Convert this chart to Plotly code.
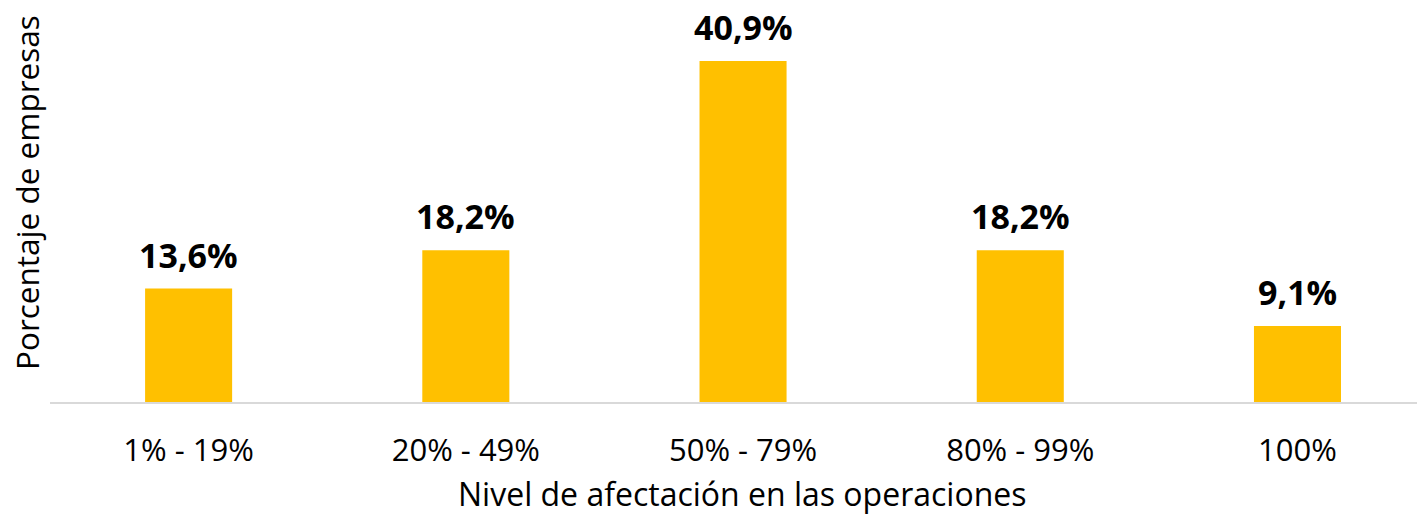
import plotly.graph_objects as go

categories = ["1% - 19%", "20% - 49%", "50% - 79%", "80% - 99%", "100%"]
values = [13.6, 18.2, 40.9, 18.2, 9.1]
labels = [f"{v:.1f}".replace(".", ",") + "%" for v in values]
x_title = "Nivel de afectación en las operaciones"
y_title = "Porcentaje de empresas"

FONT = "Open Sans"

fig = go.Figure()
fig.add_trace(go.Bar(
    x=categories, y=values,
    marker=dict(color="#FFC000", line=dict(width=0)),
    width=0.314,
))

for c, v, t in zip(categories, values, labels):
    fig.add_annotation(
        x=c, y=v, text=f"<b>{t}</b>", showarrow=False,
        yanchor="bottom", yshift=10, borderpad=0,
        font=dict(family=FONT, size=34, color="#000000"),
    )

# axis titles
fig.add_annotation(
    xref="paper", yref="paper", x=0.5036, y=-0.2335,
    xanchor="center", yanchor="middle", showarrow=False,
    text=x_title, font=dict(family=FONT, size=32, color="#000000"),
)
fig.add_annotation(
    xref="paper", yref="paper", x=-0.0167, y=0.5305,
    xanchor="center", yanchor="middle", showarrow=False, textangle=-90,
    text=y_title, font=dict(family=FONT, size=31.5, color="#000000"),
)

fig.update_layout(
    width=1417, height=509,
    margin=dict(l=42, r=0, t=0, b=115),
    plot_bgcolor="white", paper_bgcolor="white",
    showlegend=False,
    font=dict(family=FONT, color="#000000"),
    xaxis=dict(
        range=[-0.5, 4.46], automargin=False,
        showline=True, linecolor="#D9D9D9", linewidth=2,
        ticks="outside", ticklen=20, tickcolor="rgba(0,0,0,0)", showgrid=False,
        tickfont=dict(family=FONT, size=31, color="#000000"),
    ),
    yaxis=dict(
        range=[0, 47.24], showgrid=False, showticklabels=False, automargin=False,
        zeroline=False, showline=False, ticks="",
    ),
)

fig.write_html("out.html")
